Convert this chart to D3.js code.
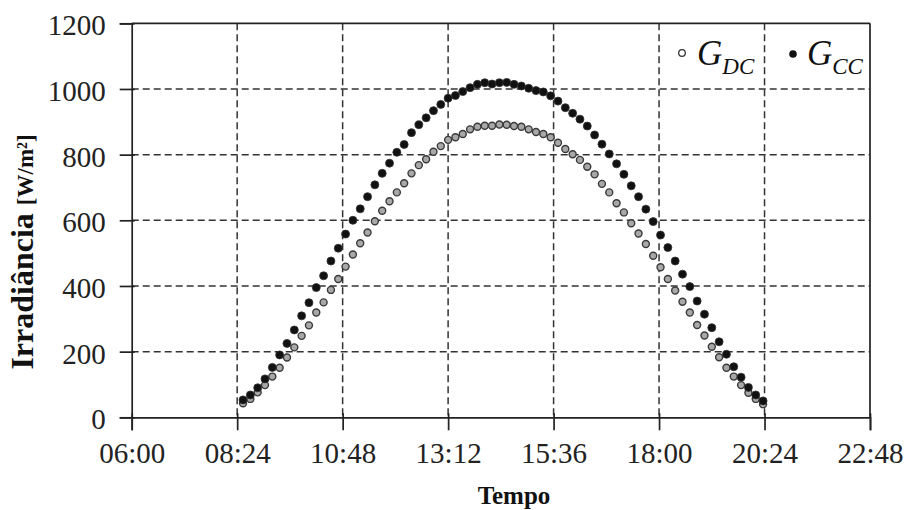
<!DOCTYPE html>
<html><head><meta charset="utf-8">
<script src="https://cdn.jsdelivr.net/npm/d3@7"></script>
<style>body{margin:0;background:#fff}svg{display:block}</style>
</head><body>
<svg id="c" width="906" height="510"></svg>
<script>
const times = ["08:32","08:42","08:52","09:02","09:12","09:22","09:32","09:42","09:52","10:02","10:12","10:22","10:32","10:42","10:52","11:02","11:12","11:22","11:32","11:42","11:52","12:02","12:12","12:22","12:32","12:42","12:52","13:02","13:12","13:22","13:32","13:42","13:52","14:02","14:12","14:22","14:32","14:42","14:52","15:02","15:12","15:22","15:32","15:42","15:52","16:02","16:12","16:22","16:32","16:42","16:52","17:02","17:12","17:22","17:32","17:42","17:52","18:02","18:12","18:22","18:32","18:42","18:52","19:02","19:12","19:22","19:32","19:42","19:52","20:02","20:12","20:22"];
const gDC = [43,56,76,98,124,151,182,213,248,280,319,350,388,421,459,496,530,563,597,629,658,685,713,743,768,786,809,826,845,853,863,877,885,888,888,892,891,887,885,877,869,863,853,836,817,801,784,763,740,711,685,652,624,591,560,528,492,457,421,386,352,319,281,249,215,183,151,124,98,75,56,40];
const gCC = [53,68,90,117,152,190,225,266,309,349,395,431,476,515,558,600,635,672,708,743,774,807,831,867,891,912,934,953,972,980,992,1004,1014,1019,1015,1019,1020,1014,1009,1002,995,991,979,963,943,926,908,887,860,832,802,772,740,705,672,634,596,555,517,476,436,398,354,314,273,230,192,154,122,91,68,50];
const xTickLabels = ["06:00","08:24","10:48","13:12","15:36","18:00","20:24","22:48"];
const yTicks = [0,200,400,600,800,1000,1200];

const toMin = s => { const [h,m] = s.split(":").map(Number); return h*60+m; };
const svg = d3.select("#c");
const L = 131.7, R = 870, T = 23.3, B = 417.3;
const x = d3.scaleLinear().domain([toMin("06:00"), toMin("22:48")]).range([L, R]);
const y = d3.scaleLinear().domain([0, 1200]).range([B, T]);
const xTicks = xTickLabels.map(toMin);
const serif = "'Liberation Serif','Times New Roman',serif";

// grid
const grid = svg.append("g").attr("stroke", "#333").attr("stroke-width", 1.5).attr("stroke-dasharray", "7,4");
grid.selectAll(".vx").data(xTicks.slice(1, -1)).join("line")
  .attr("x1", d => x(d)).attr("x2", d => x(d)).attr("y1", T).attr("y2", B);
grid.selectAll(".hy").data(yTicks.slice(1, -1)).join("line")
  .attr("y1", d => y(d)).attr("y2", d => y(d)).attr("x1", L).attr("x2", R);

// frame top/right
svg.append("line").attr("x1", L).attr("x2", R).attr("y1", T).attr("y2", T).attr("stroke", "#222").attr("stroke-width", 1.7);
svg.append("line").attr("x1", R).attr("x2", R).attr("y1", T).attr("y2", B).attr("stroke", "#222").attr("stroke-width", 1.7);

// axes
const xAxis = d3.axisBottom(x).tickValues(xTicks).tickFormat((d, i) => xTickLabels[i]).tickSize(13).tickPadding(12);
const gx = svg.append("g").attr("transform", `translate(0,${B})`).call(xAxis);
gx.select(".domain").attr("stroke", "#222").attr("stroke-width", 1.7);
gx.selectAll(".tick line").attr("y1", -4).attr("stroke", "#222").attr("stroke-width", 1.7);
gx.selectAll("text").attr("font-family", serif).attr("font-size", 29).attr("fill", "#222");

const yAxis = d3.axisLeft(y).tickValues(yTicks).tickFormat(d3.format("d")).tickSize(12).tickPadding(14);
const gy = svg.append("g").attr("transform", `translate(${L},0)`).call(yAxis);
gy.select(".domain").attr("stroke", "#222").attr("stroke-width", 1.7);
gy.selectAll(".tick line").attr("x1", 3).attr("stroke", "#222").attr("stroke-width", 1.7);
gy.selectAll("text").attr("font-family", serif).attr("font-size", 29).attr("fill", "#222").attr("dy", "0.4em");

// points
const pts = times.map((t, i) => ({ t: toMin(t), dc: gDC[i], cc: gCC[i] }));
svg.append("g").selectAll("circle").data(pts).join("circle")
  .attr("cx", d => x(d.t)).attr("cy", d => y(d.dc)).attr("r", 3.5)
  .attr("fill", "#a8a8a8").attr("stroke", "#3a3a3a").attr("stroke-width", 1.4);
svg.append("g").selectAll("circle").data(pts).join("circle")
  .attr("cx", d => x(d.t)).attr("cy", d => y(d.cc)).attr("r", 4)
  .attr("fill", "#111").attr("stroke", "#333").attr("stroke-width", 0.8);

// legend
const lg = svg.append("g");
lg.append("circle").attr("cx", 682).attr("cy", 53).attr("r", 3.3).attr("fill", "#fff").attr("stroke", "#333").attr("stroke-width", 1.3);
lg.append("circle").attr("cx", 793).attr("cy", 54).attr("r", 3.8).attr("fill", "#111");
const legText = (x0, sub) => {
  const t = lg.append("text").attr("x", x0).attr("y", 65).attr("font-family", serif).attr("font-style", "italic").attr("fill", "#111");
  t.append("tspan").attr("font-size", 35).text("G");
  t.append("tspan").attr("font-size", 23).attr("dy", 9).text(sub);
};
legText(697, "DC");
legText(807, "CC");

// axis titles
svg.append("text").attr("x", 514).attr("y", 504).attr("text-anchor", "middle")
  .attr("font-family", serif).attr("font-weight", "bold").attr("font-size", 25).attr("fill", "#111").text("Tempo");
const yt = svg.append("text").attr("transform", `translate(33,252) rotate(-90)`).attr("text-anchor", "middle")
  .attr("font-family", serif).attr("font-weight", "bold").attr("fill", "#111");
yt.append("tspan").attr("font-size", 32).text("Irradiância ");
yt.append("tspan").attr("font-size", 23).text("[W/m²]");
</script>
</body></html>
